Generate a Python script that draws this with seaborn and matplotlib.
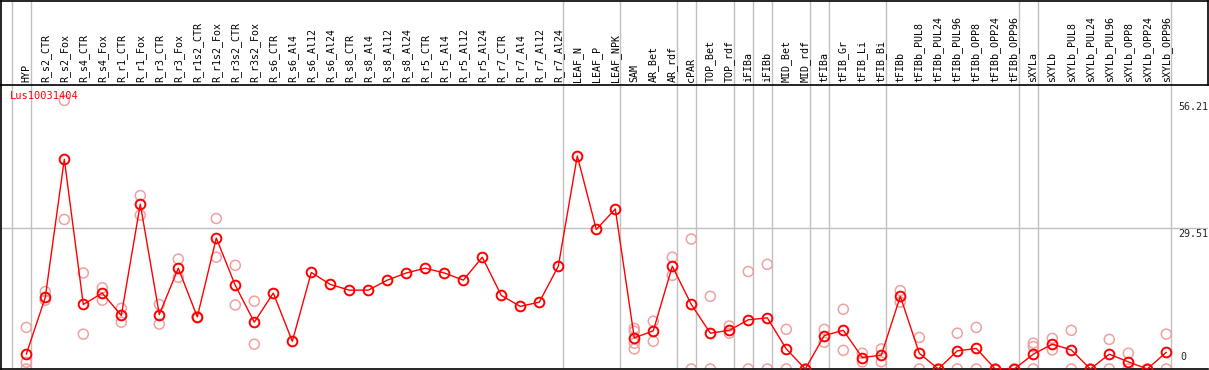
import numpy as np
import pandas as pd
import matplotlib
matplotlib.use("Agg")
import matplotlib.pyplot as plt
import seaborn as sns

# %% data
gene = "Lus10031404"
samples = ["HYP", "R_s2_CTR", "R_s2_Fox", "R_s4_CTR", "R_s4_Fox", "R_r1_CTR", "R_r1_Fox",
           "R_r3_CTR", "R_r3_Fox", "R_r1s2_CTR", "R_r1s2_Fox", "R_r3s2_CTR", "R_r3s2_Fox",
           "R_s6_CTR", "R_s6_Al4", "R_s6_Al12", "R_s6_Al24", "R_s8_CTR", "R_s8_Al4",
           "R_s8_Al12", "R_s8_Al24", "R_r5_CTR", "R_r5_Al4", "R_r5_Al12", "R_r5_Al24",
           "R_r7_CTR", "R_r7_Al4", "R_r7_Al12", "R_r7_Al24", "LEAF_N", "LEAF_P", "LEAF_NPK",
           "SAM", "AR_Bet", "AR_rdf", "cPAR", "TOP_Bet", "TOP_rdf", "iFIBa", "iFIBb",
           "MID_Bet", "MID_rdf", "tFIBa", "tFIB_Gr", "tFIB_Li", "tFIB_Bi", "tFIBb",
           "tFIBb_PUL8", "tFIBb_PUL24", "tFIBb_PUL96", "tFIBb_OPP8", "tFIBb_OPP24",
           "tFIBb_OPP96", "sXYLa", "sXYLb", "sXYLb_PUL8", "sXYLb_PUL24", "sXYLb_PUL96",
           "sXYLb_OPP8", "sXYLb_OPP24", "sXYLb_OPP96"]
means = [3.1, 15.0, 43.9, 13.5, 15.9, 11.2, 34.5, 11.4, 21.1, 10.9, 27.4, 17.5, 9.8,
         15.9, 5.8, 20.2, 17.7, 16.5, 16.5, 18.6, 20.1, 21.1, 20.1, 18.6, 23.4, 15.4,
         13.1, 14.0, 21.5, 44.6, 29.2, 33.5, 6.5, 8.0, 21.5, 13.5, 7.5, 8.1, 10.3, 10.7,
         4.2, 0.0, 7.0, 8.1, 2.4, 2.9, 15.2, 3.3, 0.0, 3.8, 4.3, 0.0, 0.0, 3.1, 5.2,
         4.0, 0.0, 3.1, 1.5, 0.0, 3.5]
replicates = [[8.7, 1.4, 0], [16.2, 14.4], [56.21, 31.3], [20.1, 7.3], [17.0, 14.4],
              [12.7, 9.8], [36.3, 32.2], [13.5, 9.4], [23.0, 19.2], [10.9, 10.9],
              [31.5, 23.4], [21.7, 13.4], [14.2, 5.2],
              [], [], [], [], [], [], [], [], [], [], [], [], [], [], [], [], [], [], [],
              [8.5, 7.9, 5.4, 4.2], [10.0, 5.8], [23.4, 19.6], [27.2, 0], [15.2, 0],
              [9.0, 7.5], [20.4, 0], [21.9, 0], [8.3, 0], [0, 0], [8.3, 5.6], [12.5, 3.9],
              [3.3, 1.5], [4.2, 1.5], [16.4, 14.0], [6.6, 0], [0, 0], [7.5, 0], [8.7, 0],
              [0, 0], [0, 0], [5.4, 4.7, 0], [6.4, 4.0], [8.1, 0], [0, 0], [6.2, 0],
              [3.3, 0], [0, 0], [7.3, 0]]
group_ends = [-1, 0, 28, 31, 34, 35, 37, 38, 39, 41, 42, 45, 52, 53, 60]
y_ticks = [0, 29.51, 56.21]
y_ticklabels = ["0", "29.51", "56.21"]

# %% tables
idx = np.arange(len(samples))
df_mean = pd.DataFrame({"idx": idx, "value": means})
df_rep = pd.DataFrame([(i, v) for i, reps in enumerate(replicates) for v in reps],
                      columns=["idx", "value"])

# %% figure layout in pixels
W, H = 1209, 370
header_bottom = 85
base = 369
px_per_unit = (base - 228) / 29.51
x0, step = 26.3, 19.0

fig = plt.figure(figsize=(W / 100, H / 100), dpi=100)
sns.set_style("white")
plt.rcParams["font.family"] = ["DejaVu Sans Mono"]

left_px, right_px = 1, 1208
xlim = ((left_px - x0) / step, (right_px - x0) / step)
ax = fig.add_axes([left_px / W, (H - base) / H, (right_px - left_px) / W,
                   (base - header_bottom) / H])
hd = fig.add_axes([left_px / W, (H - header_bottom) / H, (right_px - left_px) / W,
                   (header_bottom - 0.5) / H])

ax.set_xlim(*xlim)
ax.set_ylim(0, (base - header_bottom) / px_per_unit)
hd.set_xlim(*xlim)
hd.set_ylim(0, 1)

grid_c = "#c0c0c0"
for g in group_ends:
    ax.axvline(g + 0.23, color=grid_c, lw=1, zorder=0)
    hd.axvline(g + 0.23, color=grid_c, lw=1, zorder=0)
ax.axhline(29.51, color=grid_c, lw=1, zorder=0)

# replicates
sns.scatterplot(data=df_rep, x="idx", y="value", ax=ax, s=52, marker="o",
                legend=False, zorder=2)
pts = ax.collections[-1]
pts.set_facecolor("none")
pts.set_edgecolor("#f0a0a0")
pts.set_linewidth(1.1)

# means
sns.lineplot(data=df_mean, x="idx", y="value", ax=ax, color="#ff0000", lw=1,
             marker="o", markersize=7, markerfacecolor="none",
             markeredgecolor="#ff0000", markeredgewidth=1.4, zorder=3)

for spine in ["top", "right"]:
    ax.spines[spine].set_visible(False)
for spine in ["left", "bottom"]:
    ax.spines[spine].set_color("black")
    ax.spines[spine].set_linewidth(1.2)
for spine in hd.spines.values():
    spine.set_color("black")
    spine.set_linewidth(1.2)

ax.set_xticks([])
ax.set_yticks([])
ax.set_xlabel("")
ax.set_ylabel("")
hd.set_xticks([])
hd.set_yticks([])

for i, name in enumerate(samples):
    hd.text(i, 0.03, name, rotation=90, ha="center", va="bottom", fontsize=7.2,
            color="black")

# y labels at the right
tx = (1178 - left_px) / (right_px - left_px)
for v, lab in zip(y_ticks, y_ticklabels):
    if v == 0:
        ax.text(tx + 0.002, 1.5, lab, transform=ax.get_yaxis_transform(),
                ha="left", va="bottom", fontsize=7.2)
    else:
        ax.text(tx, v - 0.3, lab, transform=ax.get_yaxis_transform(),
                ha="left", va="top", fontsize=7.2)

fig.text(10 / W, 1 - 91 / H, gene, color="#ff0000", ha="left", va="top", fontsize=7.5)

fig.savefig("out.png", dpi=100)
